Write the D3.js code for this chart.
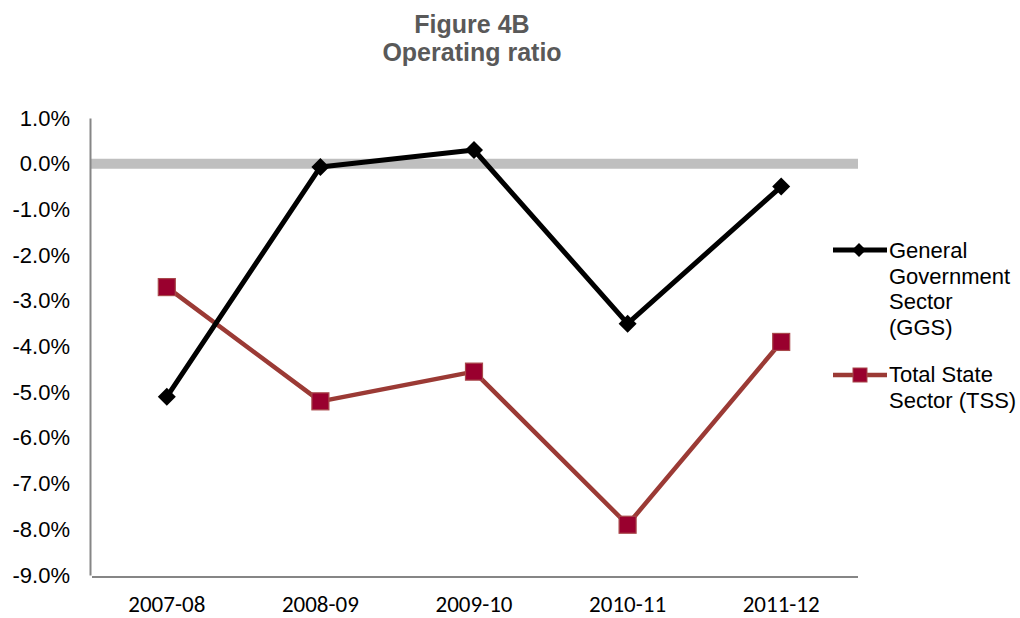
<!DOCTYPE html>
<html>
<head>
<meta charset="utf-8">
<script src="https://cdn.jsdelivr.net/npm/d3@7"></script>
<style>
  body { margin: 0; background: #fff; }
  svg { display: block; }
</style>
</head>
<body>
<svg id="chart" width="1020" height="618"></svg>
<script>
// Operating ratio by financial year (percent)
const years = ["2007-08", "2008-09", "2009-10", "2010-11", "2011-12"];
const ggsValues = [-5.1, -0.07, 0.3, -3.5, -0.5];
const tssValues = [-2.7, -5.2, -4.55, -7.9, -3.9];
const yTicks = [1, 0, -1, -2, -3, -4, -5, -6, -7, -8, -9];
const seriesNames = [
  ["General", "Government", "Sector", "(GGS)"],
  ["Total State", "Sector (TSS)"]
];

(function () {
  const svg = d3.select("#chart");
  const plotLeft = 90, plotRight = 858, plotTop = 118, plotBottom = 575;
  const sans = "'Liberation Sans', Arial, sans-serif";

  const x = d3.scaleBand().domain(years).range([plotLeft, plotRight]);
  const y = d3.scaleLinear().domain([-9, 1]).range([plotBottom, plotTop]);
  const cx = d => x(d) + x.bandwidth() / 2;

  // Title
  svg.append("text").attr("x", 472).attr("y", 33).attr("text-anchor", "middle")
    .attr("font-family", sans).attr("font-weight", "bold")
    .attr("font-size", 25).attr("fill", "#595959").text("Figure 4B");
  svg.append("text").attr("x", 472).attr("y", 61).attr("text-anchor", "middle")
    .attr("font-family", sans).attr("font-weight", "bold")
    .attr("font-size", 25).attr("fill", "#595959").text("Operating ratio");

  // Zero reference band
  svg.append("line").attr("x1", plotLeft).attr("x2", plotRight)
    .attr("y1", y(0)).attr("y2", y(0))
    .attr("stroke", "#bfbfbf").attr("stroke-width", 10);

  // Y axis (plain hyphen for negatives)
  const pct = d3.format(".1f");
  const yAxis = d3.axisLeft(y).tickValues(yTicks).tickSize(0).tickPadding(20)
    .tickFormat(d => pct(d).replace("\u2212", "-") + "%");
  const gy = svg.append("g").attr("transform", `translate(${plotLeft},0)`).call(yAxis);
  gy.attr("font-family", sans).attr("font-size", 22);
  gy.select(".domain").attr("stroke", "#868686").attr("stroke-width", 2);
  gy.selectAll("text").attr("fill", "#000");

  // X axis
  const xAxis = d3.axisBottom(x).tickSize(0).tickPadding(0);
  const gx = svg.append("g").attr("transform", `translate(0,${plotBottom + 2})`).call(xAxis);
  gx.attr("font-family", "Carlito, 'Open Sans', sans-serif").attr("font-size", 23);
  gx.select(".domain").attr("stroke", "#868686").attr("stroke-width", 2)
    .attr("d", `M${plotLeft + 2},0H${plotRight}`);
  gx.selectAll("text").attr("fill", "#000").attr("y", 34.5).attr("dy", 0);

  const line = d3.line().x((d, i) => cx(years[i])).y(d => y(d));

  // Total State Sector
  svg.append("path").datum(tssValues).attr("d", line)
    .attr("fill", "none").attr("stroke", "#9b3a35").attr("stroke-width", 4.5)
    .attr("stroke-linejoin", "round");
  svg.selectAll(".tss").data(tssValues).join("rect").attr("class", "tss")
    .attr("x", (d, i) => cx(years[i]) - 8.5).attr("y", d => y(d) - 8.5)
    .attr("width", 17).attr("height", 17)
    .attr("fill", "#99002e").attr("stroke", "#a8474a").attr("stroke-width", 1.2);

  // General Government Sector
  svg.append("path").datum(ggsValues).attr("d", line)
    .attr("fill", "none").attr("stroke", "#000").attr("stroke-width", 5)
    .attr("stroke-linejoin", "round");
  svg.selectAll(".ggs").data(ggsValues).join("path").attr("class", "ggs")
    .attr("d", (d, i) => {
      const px = cx(years[i]), py = y(d), r = 9;
      return `M${px},${py - r}L${px + r},${py}L${px},${py + r}L${px - r},${py}Z`;
    })
    .attr("fill", "#000");

  // Legend
  const lg = svg.append("g").attr("font-family", sans)
    .attr("font-size", 22).attr("fill", "#000");
  lg.append("line").attr("x1", 833).attr("x2", 887).attr("y1", 250).attr("y2", 250)
    .attr("stroke", "#000").attr("stroke-width", 5);
  lg.append("path").attr("d", "M859,243L866,250L859,257L852,250Z").attr("fill", "#000");
  seriesNames[0].forEach((t, i) => {
    lg.append("text").attr("x", 889).attr("y", 258 + i * 25.7).text(t);
  });
  lg.append("line").attr("x1", 833).attr("x2", 887).attr("y1", 375).attr("y2", 375)
    .attr("stroke", "#9b3a35").attr("stroke-width", 4.5);
  lg.append("rect").attr("x", 853).attr("y", 368).attr("width", 14).attr("height", 14)
    .attr("fill", "#99002e").attr("stroke", "#a8474a").attr("stroke-width", 1);
  seriesNames[1].forEach((t, i) => {
    lg.append("text").attr("x", 889).attr("y", 382 + i * 25.7).text(t);
  });
})();
</script>
</body>
</html>
